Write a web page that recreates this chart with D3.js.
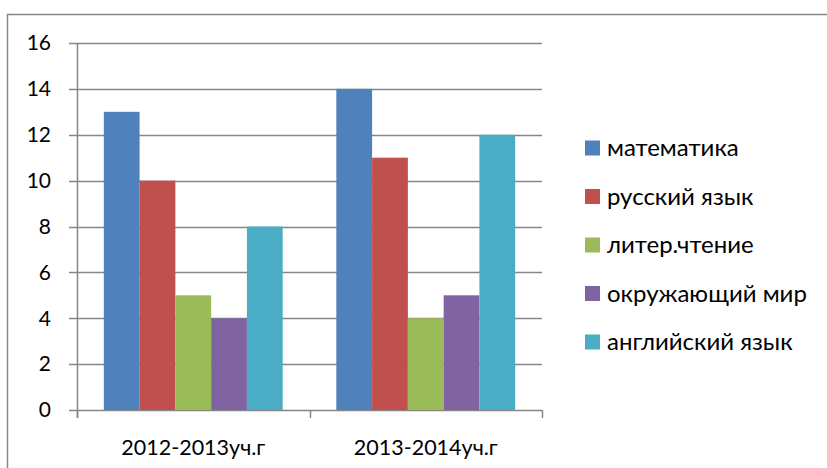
<!DOCTYPE html>
<html>
<head>
<meta charset="utf-8">
<script src="https://cdn.jsdelivr.net/npm/d3@7"></script>
<style>
  body { margin: 0; background: #fff; }
  text { font-family: Lato, "Open Sans", sans-serif; fill: #000; }
</style>
</head>
<body>
<svg id="chart" width="827" height="468"></svg>
<script>
// данные
const years = ["2012-2013уч.г", "2013-2014уч.г"];
const subjects = ["математика", "русский язык", "литер.чтение", "окружающий мир", "английский язык"];
const colors = ["#4F81BD", "#C0504D", "#9BBB59", "#8064A2", "#4BACC6"];
const values2012 = [13, 10, 5, 4, 8];
const values2013 = [14, 11, 4, 5, 12];
const yTicks = [0, 2, 4, 6, 8, 10, 12, 14, 16];

const table = years.map((y, i) => ({
    year: y,
    vals: (i === 0 ? values2012 : values2013).map((v, j) => ({ subject: subjects[j], value: v }))
}));

const svg = d3.select("#chart");

// рамка
svg.append("rect")
    .attr("x", 7.5).attr("y", 14.5)
    .attr("width", 830).attr("height", 470)
    .attr("fill", "none").attr("stroke", "#868686").attr("stroke-width", 1.5);

const pLeft = 77, pRight = 542, pTop = 43, pBottom = 410;

const x0 = d3.scaleBand().domain(years).range([pLeft, pRight]);
const x1 = d3.scaleBand().domain(subjects)
    .range([0, x0.bandwidth()])
    .paddingOuter(0.75);
const y = d3.scaleLinear().domain([0, 16]).range([pBottom, pTop]);

// сетка
svg.append("g").selectAll("line").data(yTicks).enter().append("line")
    .attr("x1", pLeft - 8).attr("x2", pRight)
    .attr("y1", d => Math.round(y(d)) + 0.5).attr("y2", d => Math.round(y(d)) + 0.5)
    .attr("stroke", "#868686").attr("stroke-width", 1.5);

// столбцы
const groups = svg.append("g").selectAll("g").data(table).enter().append("g")
    .attr("transform", d => `translate(${x0(d.year)},0)`);

groups.selectAll("rect").data(d => d.vals).enter().append("rect")
    .attr("x", d => x1(d.subject))
    .attr("width", x1.bandwidth())
    .attr("y", d => y(d.value))
    .attr("height", d => y(0) - y(d.value))
    .attr("fill", (d, i) => colors[i]);

// ось Y
const yAxis = svg.append("g");
yAxis.append("line")
    .attr("x1", pLeft + 0.5).attr("x2", pLeft + 0.5)
    .attr("y1", pTop).attr("y2", pBottom + 8)
    .attr("stroke", "#868686").attr("stroke-width", 1.5);
yAxis.selectAll("text").data(yTicks).enter().append("text")
    .attr("x", 51).attr("y", d => y(d))
    .attr("dy", "0.35em")
    .attr("text-anchor", "end")
    .style("font-size", "21px")
    .text(d => d);

// ось X
const xAxis = svg.append("g");
const bounds = [pLeft, x0(years[1]), pRight];
xAxis.selectAll("line").data(bounds).enter().append("line")
    .attr("x1", d => Math.round(d) + 0.5).attr("x2", d => Math.round(d) + 0.5)
    .attr("y1", pBottom).attr("y2", pBottom + 8)
    .attr("stroke", "#868686").attr("stroke-width", 1.5);
xAxis.selectAll("text").data(years).enter().append("text")
    .attr("x", d => x0(d) + x0.bandwidth() / 2)
    .attr("y", 447).attr("dy", "0.35em")
    .attr("text-anchor", "middle")
    .style("font-size", "21.5px")
    .text(d => d);

// легенда
const legend = svg.append("g").selectAll("g").data(subjects).enter().append("g")
    .attr("transform", (d, i) => `translate(585,${148 + i * 48.5})`);
legend.append("rect")
    .attr("x", 0).attr("y", -7.5).attr("width", 15).attr("height", 15)
    .attr("fill", (d, i) => colors[i]);
legend.append("text")
    .attr("x", 22).attr("y", 0).attr("dy", "0.35em")
    .style("font-size", "24px")
    .text(d => d);
</script>
</body>
</html>
